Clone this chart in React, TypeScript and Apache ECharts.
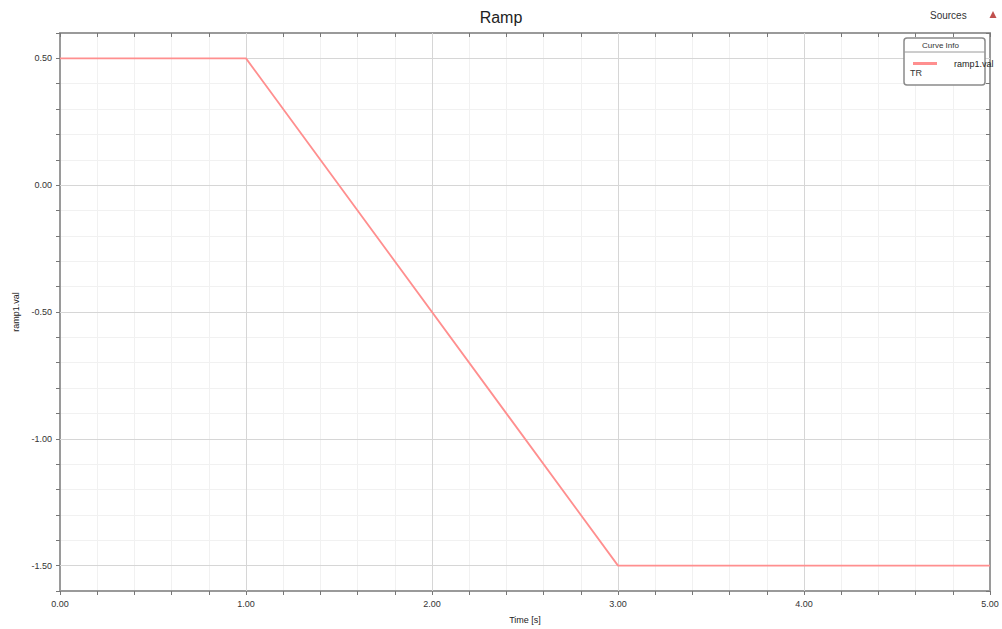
import React, { useEffect, useRef } from "react";
import * as echarts from "echarts";

const timeValues = [0, 1, 3, 5];
const rampValues = [0.5, 0.5, -1.5, -1.5];
const majorX = [1, 2, 3, 4];
const majorY = [-1.5, -1.0, -0.5, 0, 0.5];
const seriesName = "ramp1.val";

const FONT = "Liberation Sans";
const isMultiple = (v: number, step: number) => Math.abs(v / step - Math.round(v / step)) < 1e-6;

export default function App() {
  const ref = useRef<HTMLDivElement>(null);
  useEffect(() => {
    if (!ref.current) return;
    const chart = echarts.init(ref.current, undefined, { renderer: "svg" });
    const axisColor = "#9a9a9a";
    chart.setOption({
      animation: false,
      backgroundColor: "#ffffff",
      textStyle: { fontFamily: FONT },
      title: {
        text: "Ramp",
        left: "center",
        top: 4,
        textStyle: { fontSize: 16, fontWeight: "normal", color: "#222", fontFamily: FONT },
      },
      grid: { left: 60, right: 12, top: 33, bottom: 35, show: false },
      legend: {
        show: true,
        z: 20,
        data: [seriesName],
        left: 908,
        top: 54,
        icon: "rect",
        itemWidth: 24,
        itemHeight: 3,
        textStyle: { fontSize: 9, color: "#222", fontFamily: FONT, padding: [0, 0, 0, 12] },
        selectedMode: false,
      },
      xAxis: [
        {
          type: "value",
          min: 0,
          max: 5,
          interval: 0.2,
          name: "Time [s]",
          nameLocation: "middle",
          nameGap: 24,
          nameTextStyle: { fontSize: 9, color: "#222", fontFamily: FONT },
          axisLine: { show: true, onZero: false, lineStyle: { color: axisColor, width: 2 } },
          axisTick: { show: true, length: 4, lineStyle: { color: "#777" } },
          axisLabel: {
            fontSize: 9,
            color: "#333",
            margin: 8,
            formatter: (v: number) => (isMultiple(v, 1) ? v.toFixed(2) : ""),
          },
          splitLine: { show: true, lineStyle: { color: "#f1f1f1", width: 1 } },
        },
        {
          type: "value",
          position: "top",
          min: 0,
          max: 5,
          interval: 0.2,
          axisLine: { show: true, onZero: false, lineStyle: { color: axisColor, width: 2 } },
          axisTick: { show: true, inside: true, length: 4, lineStyle: { color: "#777" } },
          axisLabel: { show: false },
          splitLine: { show: false },
        },
      ],
      yAxis: [
        {
          type: "value",
          min: -1.6,
          max: 0.6,
          interval: 0.1,
          name: "ramp1.val",
          nameLocation: "middle",
          nameGap: 40,
          nameRotate: 90,
          nameTextStyle: { fontSize: 9, color: "#222", fontFamily: FONT },
          axisLine: { show: true, onZero: false, lineStyle: { color: axisColor, width: 2 } },
          axisTick: { show: true, length: 4, lineStyle: { color: "#777" } },
          axisLabel: {
            fontSize: 9,
            color: "#333",
            margin: 8,
            formatter: (v: number) => (isMultiple(v, 0.5) ? v.toFixed(2) : ""),
          },
          splitLine: { show: true, lineStyle: { color: "#f1f1f1", width: 1 } },
        },
        {
          type: "value",
          position: "right",
          min: -1.6,
          max: 0.6,
          interval: 0.1,
          axisLine: { show: true, onZero: false, lineStyle: { color: axisColor, width: 2 } },
          axisTick: { show: true, inside: true, length: 4, lineStyle: { color: "#777" } },
          axisLabel: { show: false },
          splitLine: { show: false },
        },
      ],
      series: [
        {
          name: "majorGrid",
          type: "line",
          data: [],
          z: 1,
          silent: true,
          markLine: {
            z: 1,
            silent: true,
            symbol: "none",
            label: { show: false },
            lineStyle: { color: "#d6d6d6", type: "solid", width: 1 },
            data: [
              ...majorX.map((x) => ({ xAxis: x })),
              ...majorY.map((y) => ({ yAxis: y })),
            ],
          },
        },
        {
          name: seriesName,
          type: "line",
          z: 6,
          showSymbol: false,
          symbol: "none",
          color: "#ff8f8f",
          lineStyle: { color: "#ff8f8f", width: 1.8 },
          data: timeValues.map((t, i) => [t, rampValues[i]]),
        },
      ],
      graphic: [
        {
          type: "text",
          left: 930,
          top: 10,
          style: { text: "Sources", fontSize: 10, fill: "#333", fontFamily: FONT },
        },
        {
          type: "polygon",
          shape: { points: [[993, 11], [989.5, 18], [996.5, 18]] },
          style: { fill: "#c0504d" },
        },
        {
          type: "rect",
          shape: { x: 904, y: 38, width: 81, height: 47, r: 3 },
          style: { fill: "#ffffff", stroke: "#8a8a8a", lineWidth: 1.5 },
          z: 10,
        },
        {
          type: "line",
          shape: { x1: 904, y1: 52, x2: 985, y2: 52 },
          style: { stroke: "#9a9a9a", lineWidth: 1 },
          z: 11,
        },
        {
          type: "text",
          left: 922,
          top: 41,
          style: { text: "Curve Info", fontSize: 8, fill: "#333", fontFamily: FONT },
          z: 11,
        },
        {
          type: "text",
          left: 910,
          top: 68,
          style: { text: "TR", fontSize: 9, fill: "#333", fontFamily: FONT },
          z: 11,
        },
      ],
    });
    return () => chart.dispose();
  }, []);
  return (
    <div
      ref={ref}
      style={{ position: "fixed", left: 0, top: 0, width: 1002, height: 629 }}
    />
  );
}
